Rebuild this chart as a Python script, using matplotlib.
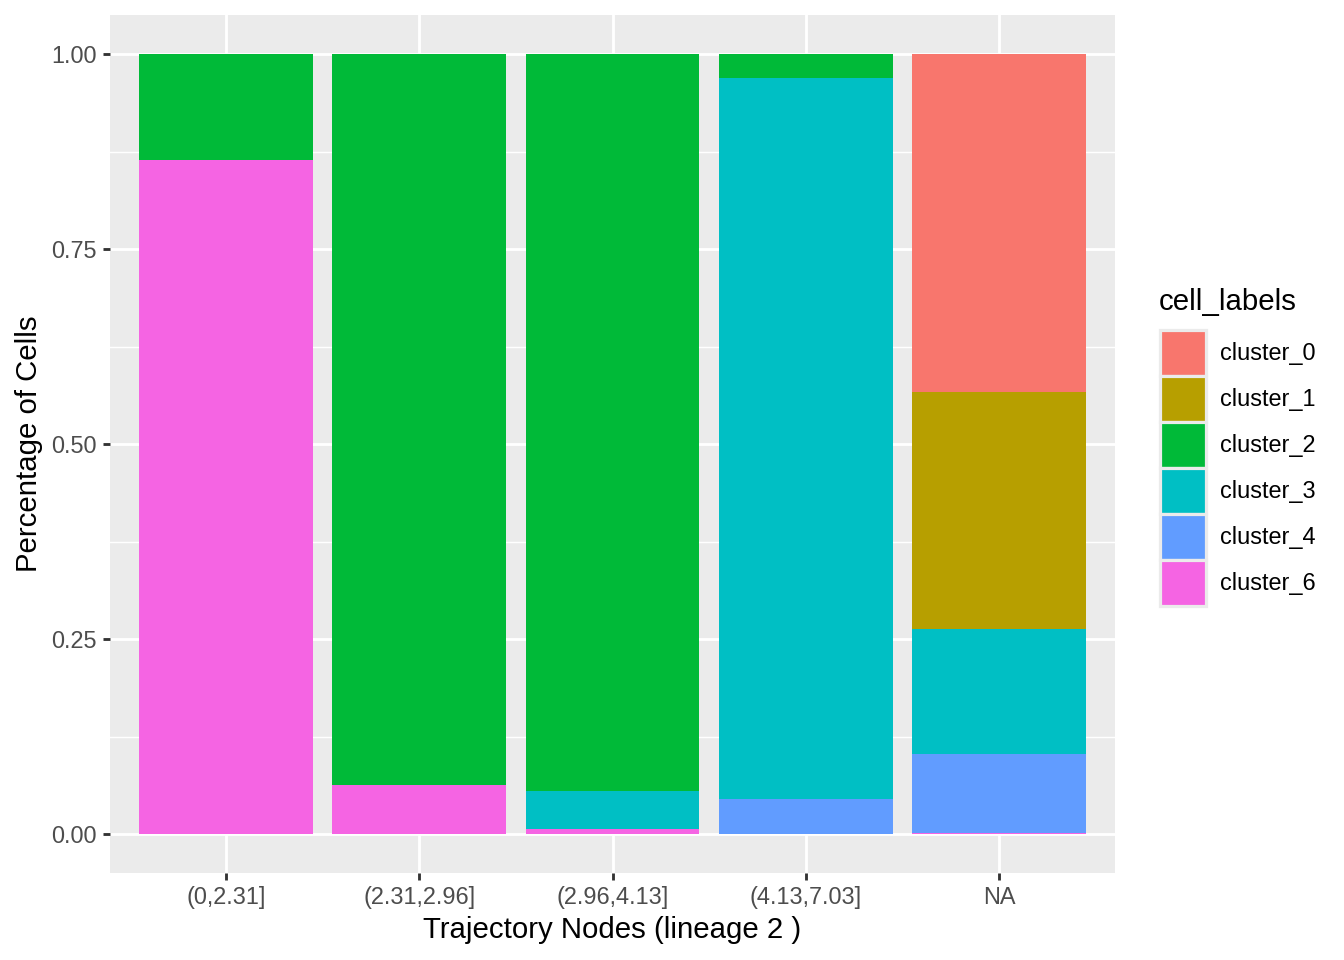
import numpy as np
import matplotlib
matplotlib.use("Agg")
import matplotlib.pyplot as plt
from matplotlib.patches import Patch

plt.rcParams['font.family'] = ['Liberation Sans', 'DejaVu Sans']

bins = ["(0,2.31]", "(2.31,2.96]", "(2.96,4.13]", "(4.13,7.03]", "NA"]
clusters = ["cluster_0", "cluster_1", "cluster_2", "cluster_3", "cluster_4", "cluster_6"]
colors = ["#F8766D", "#B79F00", "#00BA38", "#00BFC4", "#619CFF", "#F564E3"]

# fraction of cells per bin, one list per cluster
cluster_0 = [0.0, 0.0, 0.0, 0.0, 0.4327]
cluster_1 = [0.0, 0.0, 0.0, 0.0, 0.3051]
cluster_2 = [0.1353, 0.937, 0.9455, 0.0314, 0.0]
cluster_3 = [0.0, 0.0, 0.0485, 0.9231, 0.159]
cluster_4 = [0.0, 0.0, 0.0, 0.0455, 0.1022]
cluster_6 = [0.8647, 0.063, 0.006, 0.0, 0.001]

values = [cluster_0, cluster_1, cluster_2, cluster_3, cluster_4, cluster_6]

fig = plt.figure(figsize=(7, 5), dpi=192)
ax = fig.add_axes([110/1344, 1-873/960, (1115-110)/1344, (873-15)/960])
ax.set_facecolor("#EBEBEB")

x = np.arange(len(bins))
bottom = np.zeros(len(bins))
# ggplot stacks the first level on top, so draw from the last one
for name, col, vals in reversed(list(zip(clusters, colors, values))):
    vals = np.array(vals)
    ax.bar(x, vals, width=0.9, bottom=bottom, color=col, linewidth=0, zorder=3)
    bottom += vals

ax.set_xlim(-0.6, len(bins) - 0.4)
ax.set_ylim(-0.05, 1.05)
ax.set_xticks(x)
ax.set_xticklabels(bins)
ax.set_yticks([0, 0.25, 0.5, 0.75, 1.0])
ax.set_yticklabels(["0.00", "0.25", "0.50", "0.75", "1.00"])
ax.set_yticks([0.125, 0.375, 0.625, 0.875], minor=True)

ax.grid(which="major", color="white", linewidth=1.07, zorder=1)
ax.grid(which="minor", axis="y", color="white", linewidth=0.53, zorder=1)
ax.set_axisbelow(True)
for s in ax.spines.values():
    s.set_visible(False)
ax.tick_params(which="major", length=2.75, width=1.07, color="#333333",
               labelsize=8.8, labelcolor="#4D4D4D", pad=2.2)
ax.tick_params(which="minor", length=0)

ax.set_xlabel("Trajectory Nodes (lineage 2 )", fontsize=11, labelpad=2.5)
ax.set_ylabel("Percentage of Cells", fontsize=11, labelpad=3)

# legend: title as its own text, keys stacked without gaps
fig.text(1159/1344, 1-310/960, "cell_labels", fontsize=11, va="baseline", ha="left")
handles = [Patch(facecolor=c, edgecolor="#EBEBEB", linewidth=1.2) for c in colors]
leg = fig.legend(handles, clusters, loc="upper left",
                 bbox_to_anchor=(1160/1344, 1-330/960),
                 frameon=False, fontsize=8.8,
                 handlelength=1.96, handleheight=2.64,
                 labelspacing=0.0, handletextpad=0.6, borderaxespad=0,
                 borderpad=0)

fig.savefig("out.png", dpi=192)
